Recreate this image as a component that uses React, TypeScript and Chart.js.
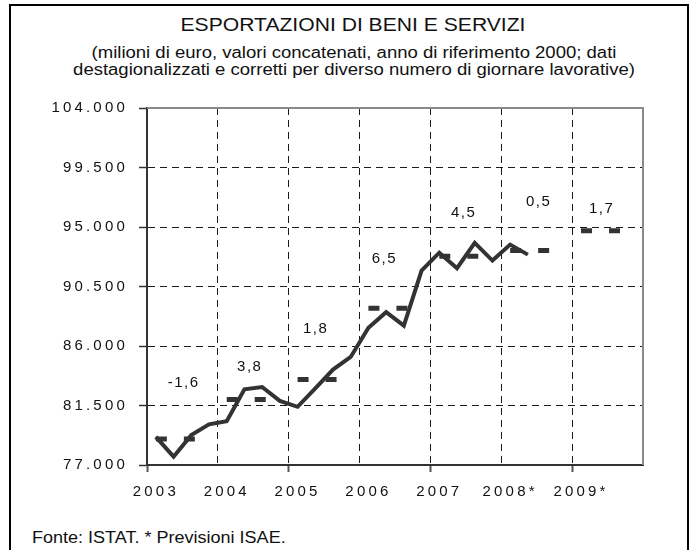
import React, { useEffect, useRef } from 'react';
import { Chart, registerables } from 'chart.js';

Chart.register(...registerables);

// ---- data ----
const years = ['2003', '2004', '2005', '2006', '2007', '2008', '2009'];
const yearTickLabels = ['2003', '2004', '2005', '2006', '2007', '2008*', '2009*'];
const quarterNames = ['I', 'II', 'III', 'IV'];
const categories = years.flatMap((y) => quarterNames.map((q) => `${q} ${y}`));

// quarterly exports (millions of euro), 2003 Q1 .. 2008 Q2
const quarterlyExports: (number | null)[] = [
  79130, 77630, 79260, 80070,
  80320, 82730, 82900, 81850,
  81400, 82800, 84220, 85170,
  87380, 88560, 87540, 91700,
  93060, 91880, 93800, 92460,
  93670, 92910, null, null,
  null, null, null, null,
];

// annual levels (dashed markers), 2003 .. 2009
const annualLevels = [78960, 81955, 83460, 88860, 92790, 93220, 94720];

// growth-rate annotations
const growthLabels = ['-1,6', '3,8', '1,8', '6,5', '4,5', '0,5', '1,7'];
const growthLabelX = [1.53, 5.26, 8.98, 12.86, 17.33, 21.57, 25.12];
const growthLabelY = [83180, 84390, 87260, 92610, 96040, 96910, 96380];

// y axis
const yMin = 77000;
const yMax = 104000;
const yStep = 4500;

const titleText = 'ESPORTAZIONI DI BENI E SERVIZI';
const subtitleLines = [
  '(milioni di euro, valori concatenati, anno di riferimento 2000; dati',
  'destagionalizzati e corretti per diverso numero di giornare lavorative)',
];
const footerText = 'Fonte: ISTAT. * Previsioni ISAE.';

const annualByQuarter = annualLevels.flatMap((v) => [v, v, v, v]);

const fmtThousands = (v: number) => {
  const s = Math.round(v).toString();
  return s.slice(0, -3) + '.' + s.slice(-3);
};

const FONT = '"Liberation Sans", Arial, Helvetica, sans-serif';
const TRANSPARENT = 'rgba(0,0,0,0)';

const framePlugin = {
  id: 'frameAndLabels',
  beforeDraw(chart: any) {
    chart.ctx.letterSpacing = '3.2px';
  },
  beforeDatasetsDraw(chart: any) {
    const { ctx, chartArea: a } = chart;
    ctx.save();
    ctx.strokeStyle = '#8a8a8a';
    ctx.lineWidth = 2;
    ctx.beginPath();
    ctx.moveTo(a.left, a.top);
    ctx.lineTo(a.right, a.top);
    ctx.lineTo(a.right, a.bottom);
    ctx.stroke();
    ctx.restore();
  },
  afterDatasetsDraw(chart: any) {
    const { ctx } = chart;
    const xs = chart.scales.x;
    const ys = chart.scales.y;
    ctx.save();
    ctx.font = `15px ${FONT}`;
    ctx.fillStyle = '#111';
    ctx.textAlign = 'center';
    ctx.textBaseline = 'middle';
    ctx.letterSpacing = '1.5px';
    growthLabels.forEach((t, i) => {
      ctx.fillText(t, xs.getPixelForValue(growthLabelX[i]) + 0.75, ys.getPixelForValue(growthLabelY[i]));
    });
    ctx.restore();
  },
  afterDraw(chart: any) {
    chart.ctx.letterSpacing = '0px';
  },
};

export default function App() {
  const ref = useRef<HTMLCanvasElement>(null);

  useEffect(() => {
    if (!ref.current) return;
    const chart = new Chart(ref.current, {
      type: 'line',
      data: {
        labels: categories,
        datasets: [
          {
            label: 'Esportazioni trimestrali',
            data: quarterlyExports,
            borderColor: '#333333',
            borderWidth: 4,
            borderJoinStyle: 'miter',
            borderCapStyle: 'butt',
            pointRadius: 0,
            tension: 0,
            fill: false,
          },
          {
            label: 'Livello annuo',
            data: annualByQuarter,
            borderColor: '#333333',
            borderWidth: 5,
            borderDash: [11, 17],
            borderCapStyle: 'butt',
            pointRadius: 0,
            tension: 0,
            fill: false,
            segment: {
              borderColor: (c: any) => (c.p0DataIndex % 4 === 3 ? TRANSPARENT : undefined),
            },
          },
        ],
      },
      options: {
        animation: false,
        responsive: false,
        devicePixelRatio: 1,
        layout: { padding: { left: 0, top: 108, right: 48, bottom: 45 } },
        plugins: {
          legend: { display: false },
          tooltip: { enabled: false },
          title: { display: false },
        },
        scales: {
          x: {
            type: 'category',
            offset: true,
            afterFit: (s: any) => {
              s.height = 40;
            },
            grid: {
              offset: true,
              drawOnChartArea: true,
              lineWidth: 1,
              color: (c: any) =>
                typeof c.index === 'number' && c.index % 4 === 0 && c.index > 0 && c.index < categories.length
                  ? '#1a1a1a'
                  : TRANSPARENT,
              tickLength: 7,
              tickWidth: 2,
              tickColor: (c: any) =>
                typeof c.index === 'number' && c.index % 8 === 0 && c.index < categories.length ? '#555555' : TRANSPARENT,
            },
            border: { display: true, color: '#333333', width: 2, dash: [7, 5] },
            ticks: {
              autoSkip: false,
              maxRotation: 0,
              minRotation: 0,
              padding: 11,
              color: '#111111',
              font: { family: FONT, size: 15 },
              callback: (_v: any, i: number) => (i % 4 === 0 ? yearTickLabels[i / 4] : ''),
            },
          },
          y: {
            type: 'linear',
            min: yMin,
            max: yMax,
            afterFit: (s: any) => {
              s.width = 147;
            },
            grid: {
              lineWidth: 1,
              color: (c: any) =>
                c.tick && c.tick.value > yMin && c.tick.value < yMax ? '#1a1a1a' : TRANSPARENT,
              tickLength: 8,
              tickWidth: 1.5,
              tickColor: '#333333',
            },
            border: { display: true, color: '#333333', width: 2, dash: [7, 5] },
            ticks: {
              stepSize: yStep,
              padding: 11,
              color: '#111111',
              font: { family: FONT, size: 15 },
              callback: (v: any) => fmtThousands(Number(v)),
            },
          },
        },
      },
      plugins: [framePlugin],
    } as any);
    return () => chart.destroy();
  }, []);

  return (
    <div
      style={{
        position: 'fixed',
        left: 0,
        top: 0,
        width: 691,
        height: 550,
        overflow: 'hidden',
        background: '#ffffff',
        fontFamily: FONT,
        color: '#111111',
      }}
    >
      <div
        style={{
          position: 'absolute',
          left: 9,
          top: 4,
          width: 680,
          height: 620,
          border: '2px solid #000',
          boxSizing: 'border-box',
        }}
      />
      <div
        style={{
          position: 'absolute',
          left: 0,
          width: 706,
          top: 15.9,
          fontSize: 18.7,
          lineHeight: '18.7px',
          textAlign: 'center',
          whiteSpace: 'nowrap',
          transform: 'scaleX(1.13)',
          transformOrigin: '353px 50%',
        }}
      >
        {titleText}
      </div>
      <div
        style={{
          position: 'absolute',
          left: 0,
          width: 708,
          top: 43.5,
          fontSize: 16,
          lineHeight: '17px',
          textAlign: 'center',
          whiteSpace: 'nowrap',
          transform: 'scaleX(1.157)',
          transformOrigin: '354px 50%',
        }}
      >
        {subtitleLines[0]}
        <br />
        {subtitleLines[1]}
      </div>
      <div
        style={{
          position: 'absolute',
          left: 32,
          top: 529.8,
          fontSize: 16,
          lineHeight: '16px',
          whiteSpace: 'nowrap',
          transform: 'scaleX(1.126)',
          transformOrigin: '0 50%',
        }}
      >
        {footerText}
      </div>
      <canvas ref={ref} width={691} height={550} style={{ position: 'absolute', left: 0, top: 0 }} />
    </div>
  );
}
